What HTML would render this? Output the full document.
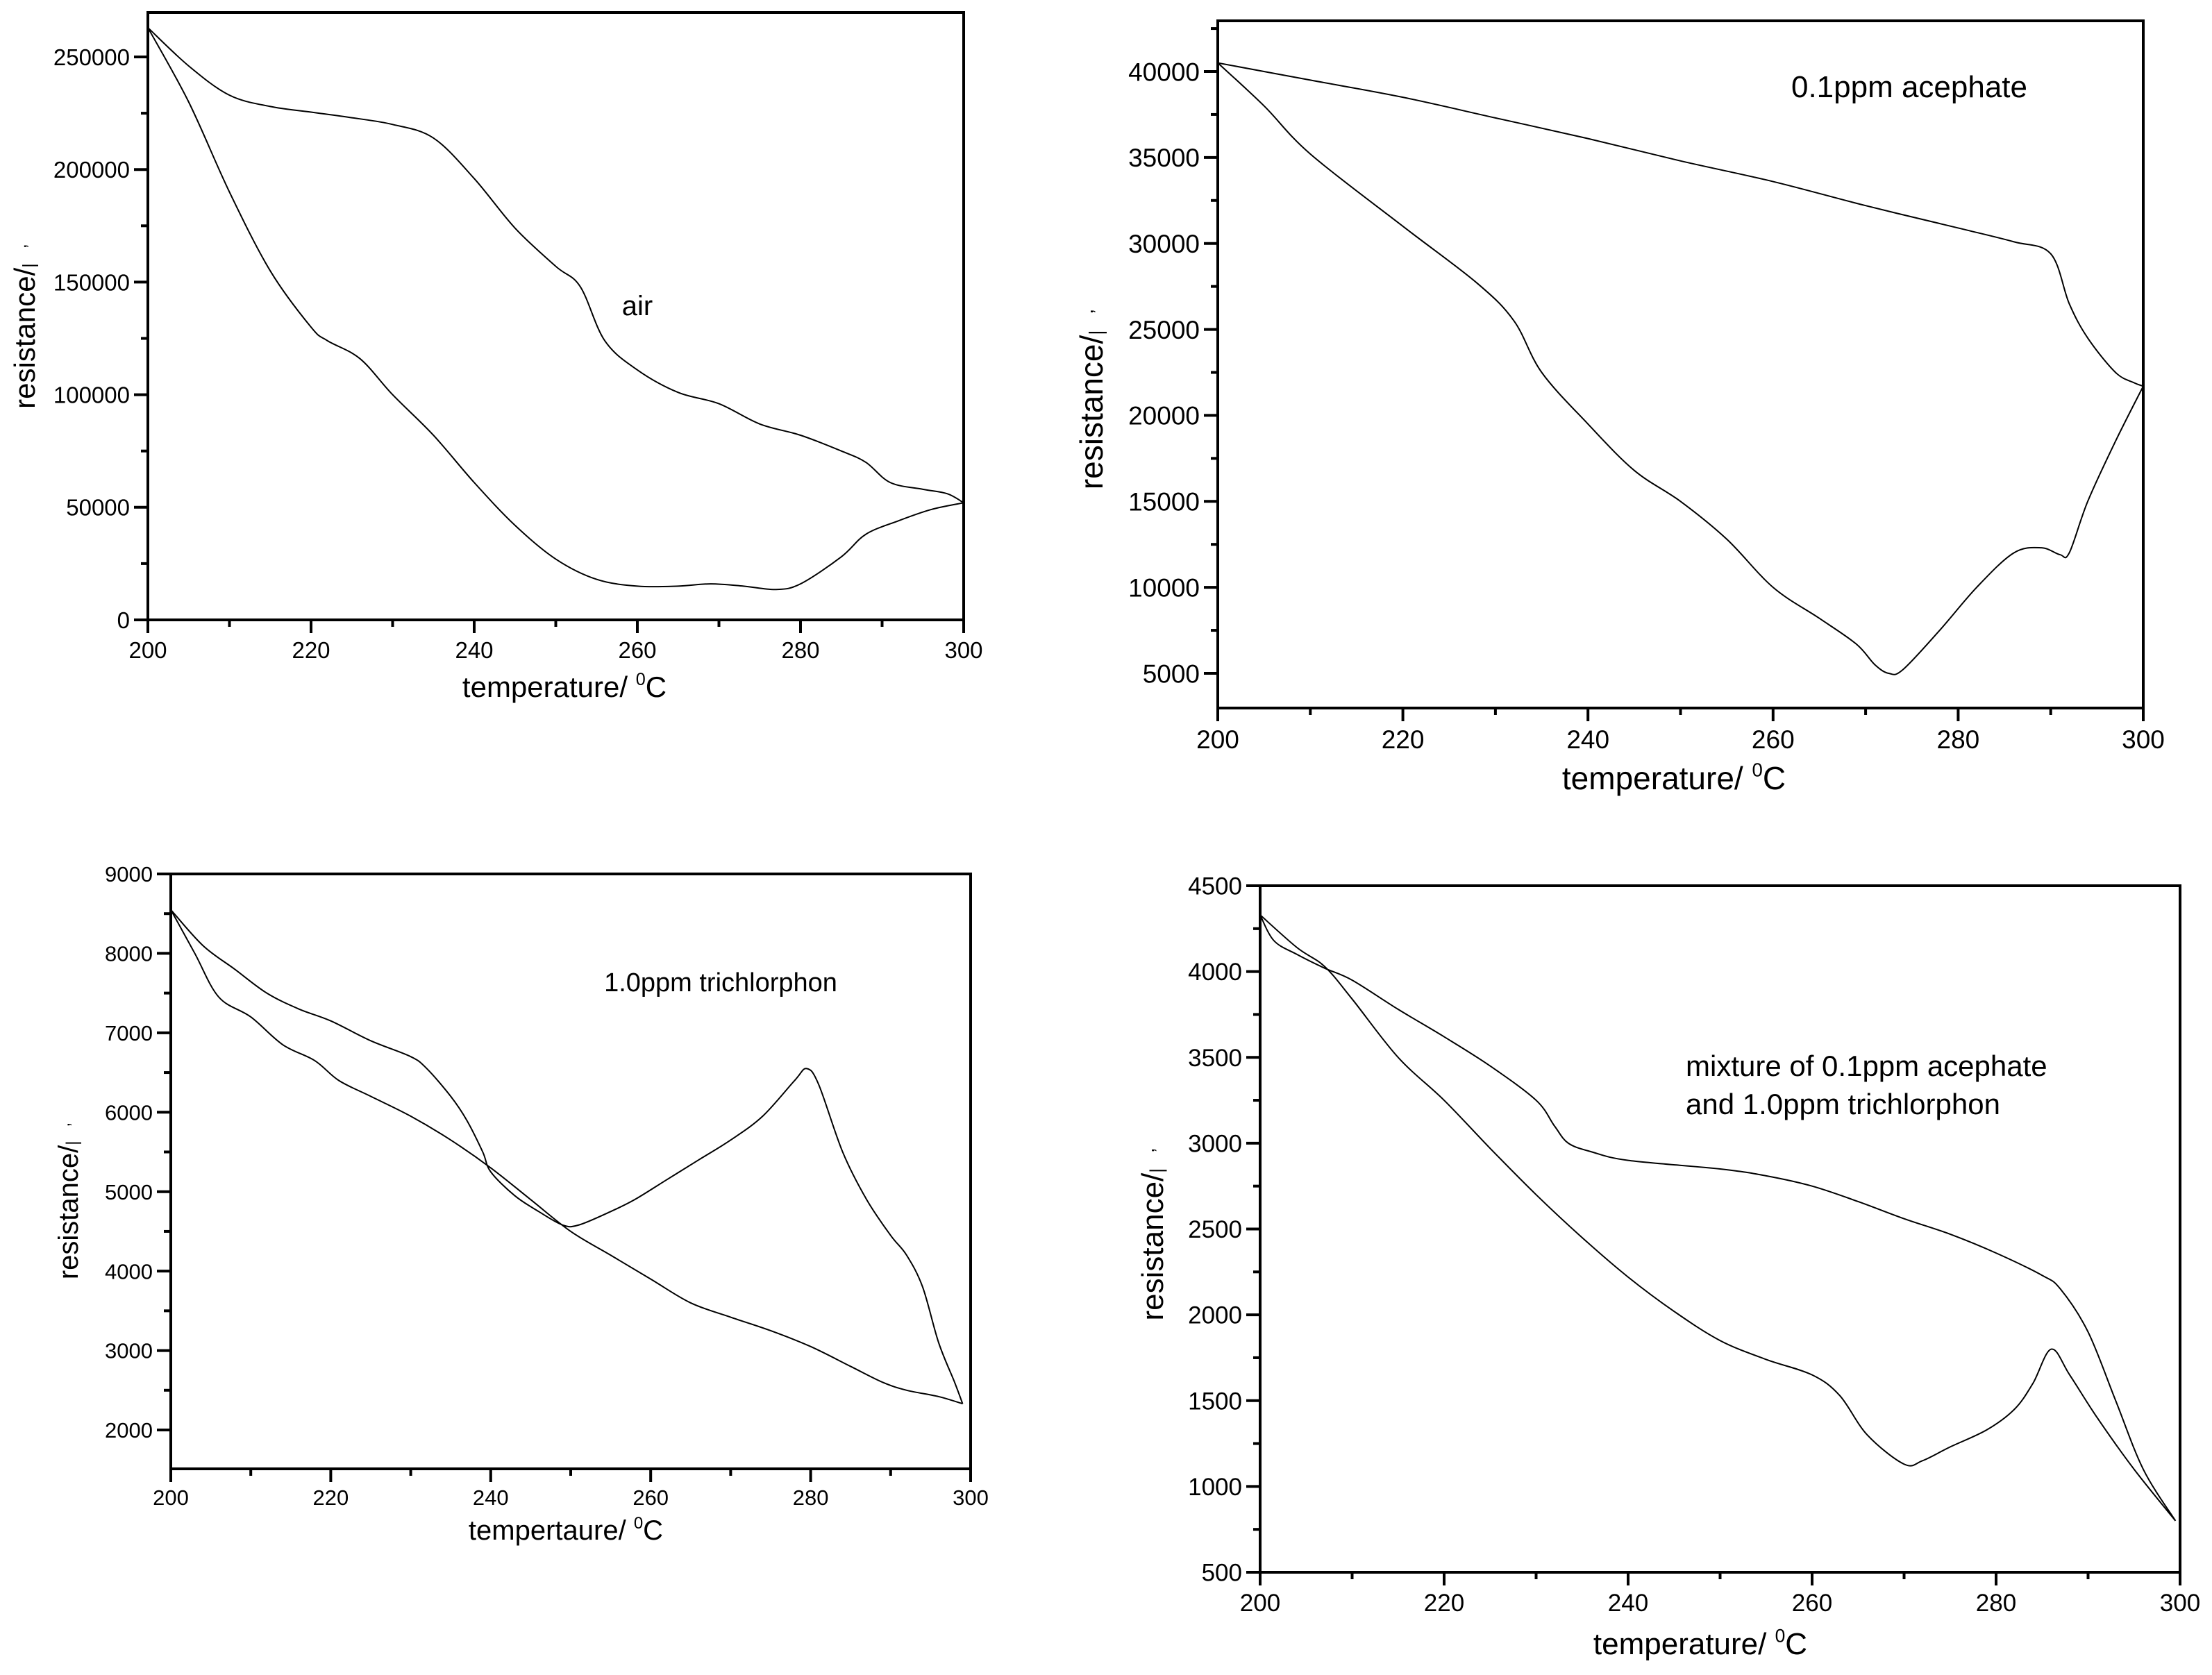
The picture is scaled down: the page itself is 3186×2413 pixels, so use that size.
<!DOCTYPE html>
<html><head><meta charset="utf-8"><style>
html,body{margin:0;padding:0;background:#fff;}
svg{display:block;}
text{font-family:"Liberation Sans",sans-serif;fill:#000;}
</style></head><body>
<svg id="s" xmlns="http://www.w3.org/2000/svg" width="3186" height="2413" viewBox="0 0 3186 2413"></svg>
<script>
// Panel 1: air
const p1Ticks = [0,50000,100000,150000,200000,250000];
const p1UpX = [200,205,210,215,220,225,230,235,240,245,250,253,256,260,265,270,275,280,285,288,291,295,298,300];
const p1UpY = [263000,246000,233000,228000,225500,223000,220000,214000,196000,174000,157000,148000,124000,111000,101000,96000,87000,82000,75000,70000,61000,58000,56000,52000];
const p1LoX = [200,205,210,215,220,222,226,230,235,240,245,250,255,260,265,269,273,277,280,285,288,292,296,300];
const p1LoY = [263000,230000,190000,155000,130000,124000,116000,100000,82000,61000,42000,27000,18000,15000,15000,16000,15000,13500,16000,28000,38000,44000,49000,52000];
// Panel 2: 0.1ppm acephate
const p2Ticks = [5000,10000,15000,20000,25000,30000,35000,40000];
const p2UpX = [200,210,220,230,240,250,260,270,280,286,290,292,294,297,299,300];
const p2UpY = [40500,39500,38500,37300,36100,34800,33600,32200,30900,30100,29400,26500,24500,22500,21900,21700];
const p2LoX = [200,205,210,220,228,232,235,240,245,250,255,260,265,269,271,272.5,274,278,282,286,289,291,292,294,297,300];
const p2LoY = [40500,38000,35200,31000,27700,25500,22500,19500,16800,15000,12800,10000,8200,6700,5500,5000,5200,7500,10000,12000,12300,11900,12000,15000,18500,21700];
// Panel 3: 1.0ppm trichlorphon
const p3Ticks = [2000,3000,4000,5000,6000,7000,8000,9000];
const p3UpX = [200,204,208,212,216,220,225,230,232,235,237,239,240,243,246,249,251,255,258,262,266,270,274,278,279.5,281,284,287,290,292,294,296,298,299];
const p3UpY = [8550,8100,7800,7500,7300,7150,6900,6700,6550,6200,5900,5500,5250,4950,4750,4580,4580,4750,4900,5150,5400,5650,5950,6400,6550,6350,5500,4900,4450,4200,3800,3100,2600,2330];
const p3LoX = [200,203,206,210,214,218,221,225,230,235,240,245,250,255,260,265,270,275,280,285,289,292,296,299];
const p3LoY = [8550,8000,7450,7200,6850,6650,6400,6200,5950,5650,5300,4900,4500,4200,3900,3600,3420,3250,3050,2800,2600,2500,2420,2330];
// Panel 4: mixture
const p4Ticks = [500,1000,1500,2000,2500,3000,3500,4000,4500];
const p4UpX = [200,201.5,204,207,210,215,220,225,230,232,233.5,236,240,250,255,260,265,270,275,280,285,287,290,293,296,299.5];
const p4UpY = [4330,4180,4100,4020,3950,3780,3620,3450,3250,3100,3000,2950,2900,2850,2810,2750,2660,2560,2470,2360,2230,2150,1900,1500,1100,800];
const p4LoX = [200,204,207,210,215,220,225,230,235,240,245,250,255,260,263,266,270,272,275,279,282,284,286,288,291,295,299.5];
const p4LoY = [4330,4140,4030,3840,3500,3250,2970,2700,2450,2220,2020,1850,1740,1650,1530,1300,1130,1150,1230,1330,1450,1600,1800,1650,1400,1100,800];
const xTicks = [200,220,240,260,280,300];

const NS="http://www.w3.org/2000/svg";
const svg=document.getElementById('s');
function mk(tag,attrs,parent){const e=document.createElementNS(NS,tag);for(const k in attrs)e.setAttribute(k,attrs[k]);(parent||svg).appendChild(e);return e;}

function panel(cfg){
  const g=mk('g',{});
  
  
  const X=v=>cfg.x0+(v-200)/100*(cfg.x1-cfg.x0);
  const Y=v=>cfg.ya+(v-cfg.va)/(cfg.vb-cfg.va)*(cfg.yb-cfg.ya);
  const top=cfg.top, bot=cfg.bot;
  const frame=mk('rect',{x:cfg.x0,y:top,width:cfg.x1-cfg.x0,height:bot-top,fill:'none',stroke:'#000','stroke-width':4},g);
  
  
  for(let v=200;v<=300;v+=10){
    const major=v%20===0;
    const t=mk('line',{x1:X(v),x2:X(v),y1:bot,y2:bot+(major?19:10),stroke:'#000','stroke-width':4},g);
    
    
  }
  xTicks.forEach(v=>{
    const t=mk('text',{x:X(v),y:bot+cfg.xlOff,'font-size':cfg.fs,'text-anchor':'middle'},g);
    t.textContent=v;
    
    
  });
  const ticks=cfg.ticks, step=ticks[1]-ticks[0];
  for(let i=0;i<ticks.length;i++){
    const v=ticks[i];
    const t=mk('line',{x1:cfg.x0-20,x2:cfg.x0,y1:Y(v),y2:Y(v),stroke:'#000','stroke-width':4},g);
    
    
    const l=mk('text',{x:cfg.x0-26,y:Y(v)+cfg.fs*0.36,'font-size':cfg.fs,'text-anchor':'end'},g);
    l.textContent=v;
    
    
  }
  for(let v=ticks[0]-step/2;v<=ticks[ticks.length-1]+step;v+=step){
    const yy=Y(v); if(yy<top-1||yy>bot+1) continue;
    const t=mk('line',{x1:cfg.x0-10,x2:cfg.x0,y1:yy,y2:yy,stroke:'#000','stroke-width':4},g);
    
    
  }
  [[cfg.ux,cfg.uy,'upper-branch'],[cfg.lx,cfg.ly,'lower-branch']].forEach(([xs,ys,nm])=>{
    const pts=xs.map((x,i)=>[X(x),Y(ys[i])]);
    let d='M'+pts[0][0]+','+pts[0][1];
    for(let i=0;i<pts.length-1;i++){
      const p0=pts[Math.max(i-1,0)],p1=pts[i],p2=pts[i+1],p3=pts[Math.min(i+2,pts.length-1)];
      const c1=[p1[0]+(p2[0]-p0[0])/6,p1[1]+(p2[1]-p0[1])/6];
      const c2=[p2[0]-(p3[0]-p1[0])/6,p2[1]-(p3[1]-p1[1])/6];
      d+=' C'+c1+' '+c2+' '+p2;
    }
    const p=mk('path',{d:d,fill:'none',stroke:'#000','stroke-width':2},g);
    
    
  });
  const xt=mk('text',{x:cfg.xtx,y:cfg.xty,'font-size':cfg.tfs,'text-anchor':'middle'},g);
  xt.innerHTML=cfg.xlabel+'/ <tspan dy="-'+cfg.tfs*0.4+'" font-size="'+cfg.tfs*0.6+'">0</tspan><tspan dy="'+cfg.tfs*0.4+'">C</tspan>';
  
  
  const yt=mk('text',{x:0,y:0,'font-size':cfg.tfs,'text-anchor':'middle',transform:'translate('+cfg.ytx+','+cfg.yty+') rotate(-90)'},g);
  yt.innerHTML='resistance/<tspan font-size="'+cfg.tfs*0.6+'">|</tspan><tspan dx="'+cfg.tfs*0.5+'" dy="-'+cfg.tfs*0.3+'" font-size="'+cfg.tfs*0.6+'">,</tspan>';
  
  
  cfg.notes.forEach(n=>{
    const t=mk('text',{x:n[0],y:n[1],'font-size':cfg.nfs,'text-anchor':n[3]||'middle'},g);
    t.textContent=n[2];
    
    
  });
}

panel({name:'air-panel',x0:213,x1:1388,va:0,ya:893,vb:250000,yb:82,top:18,bot:893,ticks:p1Ticks,
  ux:p1UpX,uy:p1UpY,lx:p1LoX,ly:p1LoY,fs:33,xlOff:55,tfs:42,nfs:40,xlabel:'temperature',
  xtx:813,xty:1004,ytx:50,yty:470,notes:[[918,454,'air']]});
panel({name:'acephate-panel',x0:1754,x1:3087,va:40000,ya:103,vb:5000,yb:970,top:30,bot:1020,ticks:p2Ticks,
  ux:p2UpX,uy:p2UpY,lx:p2LoX,ly:p2LoY,fs:37,xlOff:58,tfs:46,nfs:44,xlabel:'temperature',
  xtx:2411,xty:1137,ytx:1588,yty:575,notes:[[2750,140,'0.1ppm acephate']]});
panel({name:'trichlorphon-panel',x0:246,x1:1398,va:9000,ya:1259,vb:2000,yb:2060,top:1259,bot:2116,ticks:p3Ticks,
  ux:p3UpX,uy:p3UpY,lx:p3LoX,ly:p3LoY,fs:31,xlOff:52,tfs:40,nfs:38,xlabel:'tempertaure',
  xtx:815,xty:2218,ytx:112,yty:1730,notes:[[1038,1428,'1.0ppm trichlorphon']]});
panel({name:'mixture-panel',x0:1815,x1:3140,va:4500,ya:1276,vb:500,yb:2265,top:1276,bot:2265,ticks:p4Ticks,
  ux:p4UpX,uy:p4UpY,lx:p4LoX,ly:p4LoY,fs:35,xlOff:56,tfs:44,nfs:42,xlabel:'temperature',
  xtx:2449,xty:2383,ytx:1675,yty:1778,notes:[[2428,1550,'mixture of 0.1ppm acephate','start'],[2428,1605,'and 1.0ppm trichlorphon','start']]});
</script>
</body></html>
